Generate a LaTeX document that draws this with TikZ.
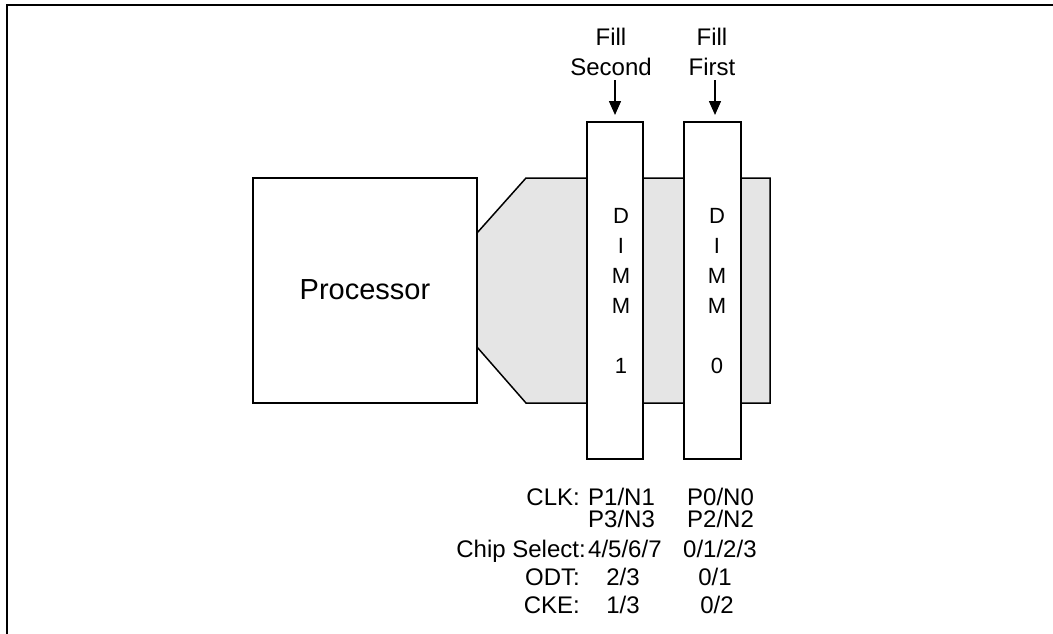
\documentclass[tikz,border=0pt]{standalone}
\usepackage{fontspec}
\setmainfont{Liberation Sans}
\usetikzlibrary{arrows.meta}
\begin{document}
\begin{tikzpicture}[x=1pt,y=-1pt,
  box/.style={draw,line width=1.5pt,fill=white,inner sep=0pt,outer sep=0pt},
  txt/.style={inner sep=0pt,font=\fontsize{24}{28}\selectfont},
  dimmtxt/.style={inner sep=0pt,anchor=base,font=\fontsize{22}{26}\selectfont},
  proctxt/.style={inner sep=0pt,anchor=base,font=\fontsize{29}{34}\selectfont},
  downarrow/.style={line width=1.5pt,-{Triangle[length=14pt,width=12pt]},shorten >=7pt}]
\useasboundingbox (0,0) rectangle (1053,633);
% frame
\draw[line width=2pt] (1053,5) -- (7,5) -- (7,634);
% gray bus
\fill[gray!20] (477,233) -- (526,178) -- (770,178) -- (770,403) -- (526,403) -- (477,347) -- cycle;
\draw[line width=1.5pt,line join=miter] (477,233) -- (526,178) -- (770,178) -- (770,403) -- (526,403) -- (477,347);
% processor
\node[box,minimum width=224pt,minimum height=225pt] (proc) at (365,290.5) {};
\node[proctxt] (proclabel) at (365,299) {Processor};
% DIMMs
\node[box,minimum width=56pt,minimum height=337pt] (d1) at (615,290.5) {};
\node[box,minimum width=57pt,minimum height=337pt] (d0) at (712.5,290.5) {};
\foreach \c [count=\i] in {D,I,M,M} {
  \node[dimmtxt] (dA\i) at (621,193+30*\i) {\c};
  \node[dimmtxt] (dB\i) at (717,193+30*\i) {\c};
}
\node[dimmtxt] (dA6) at (621,373) {1};
\node[dimmtxt] (dB6) at (717,373) {0};
% fill labels
\node[txt,anchor=base] (fsA) at (611,45) {Fill};
\node[txt,anchor=base] (fsB) at (611,75) {Second};
\node[txt,anchor=base] (ffA) at (712,45) {Fill};
\node[txt,anchor=base] (ffB) at (712,75) {First};
\coordinate (a1) at (615,80);
\coordinate (a0) at (715,80);
\draw[downarrow] (a1) -- (a1 |- d1.north);
\draw[downarrow] (a0) -- (a0 |- d0.north);
% bottom table
\node[txt,anchor=base east] (lclk) at (580,505) {CLK:};
\node[txt,anchor=base west] (clk1a) at (588,505) {P1/N1};
\node[txt,anchor=base west] (clk1b) at (588,527) {P3/N3};
\node[txt,anchor=base west] (clk0a) at (687,505) {P0/N0};
\node[txt,anchor=base west] (clk0b) at (687,527) {P2/N2};
\node[txt,anchor=base east] (lcs) at (586,557) {Chip Select:};
\node[txt,anchor=base west] (cs1) at (588,557) {4/5/6/7};
\node[txt,anchor=base west] (cs0) at (683,557) {0/1/2/3};
\node[txt,anchor=base east] (lodt) at (580,585) {ODT:};
\node[txt,anchor=base] (odt1) at (623,585) {2/3};
\node[txt,anchor=base] (odt0) at (715,585) {0/1};
\node[txt,anchor=base east] (lcke) at (580,613) {CKE:};
\node[txt,anchor=base] (cke1) at (623,613) {1/3};
\node[txt,anchor=base] (cke0) at (717,613) {0/2};
\end{tikzpicture}
\end{document}
